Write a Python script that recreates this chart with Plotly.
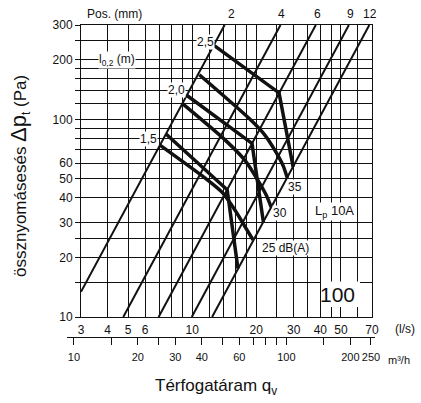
import math
import plotly.graph_objects as go

# grid / tick values
q_grid = [3, 4, 5, 6, 7, 8, 9, 10, 12, 14, 16, 18, 20, 25, 30, 35, 40, 45, 50, 60, 70]
q_labels = [3, 4, 5, 6, 10, 20, 30, 40, 50, 70]
dp_grid = [10, 15, 20, 25, 30, 40, 50, 60, 70, 80, 90, 100, 120, 140, 160, 180, 200, 250, 300]
dp_labels = [10, 20, 30, 40, 50, 60, 100, 200, 300]
m3h_ticks = [10, 15, 20, 25, 30, 40, 50, 60, 70, 80, 90, 100, 150, 200, 250]
m3h_labels = [10, 20, 30, 40, 60, 100, 200, 250]

# damper positions (mm), end points (l/s, Pa)
pos_names = ["2", "4", "6", "9", "12"]
pos_q = [[3.0, 14.2], [4.74, 26.0], [6.95, 38.1], [9.95, 54.5], [12.4, 68.0]]
pos_dp = [[13.4, 300], [10, 300], [10, 300], [10, 300], [10, 300]]

# throw l0,2 (m) lines
throw_names = ["2,5", "2,0", "1,5"]
throw_q = [[12.7, 25.6, 29.8], [9.45, 19.1, 21.6], [7.55, 14.6, 16.4]]
throw_dp = [[236, 136, 57.5], [132, 75.5, 30.2], [84, 44, 17.6]]

# sound level Lp 10A, dB(A)
sound_names = ["35", "30", "25 dB(A)"]
sound_q = [[10.8, 18.7, 22.0, 24.8, 26.8, 28.0],
           [9.0, 14.3, 17.7, 20.4, 22.3, 23.5],
           [7.05, 11.5, 13.8, 15.9, 17.9, 19.3]]
sound_dp = [[168, 100, 83, 68, 58, 50.5],
            [120, 78.5, 62, 49, 41.3, 36],
            [74, 50.4, 42.8, 34.7, 28.1, 24.6]]

W, H = 421, 403
ML, MR, MT, MB = 60, 45, 25, 30
INK = "#111111"
FONT = "Arial, Liberation Sans, sans-serif"


def px(x):
    return (x - ML) / (W - ML - MR)


def py(y):
    return (H - MB - y) / (H - MT - MB)


fig = go.Figure()

for name, qs, ps in zip(pos_names, pos_q, pos_dp):
    fig.add_trace(go.Scatter(x=qs, y=ps, mode="lines", name="Pos " + name,
                             line=dict(color=INK, width=2), hoverinfo="skip"))

for name, qs, ps in zip(throw_names, throw_q, throw_dp):
    fig.add_trace(go.Scatter(x=qs, y=ps, mode="lines", name=name,
                             line=dict(color=INK, width=3.5), hoverinfo="skip"))

for name, qs, ps in zip(sound_names, sound_q, sound_dp):
    fig.add_trace(go.Scatter(x=qs, y=ps, mode="lines", name=name,
                             line=dict(color=INK, width=3.5, shape="spline", smoothing=0.6),
                             hoverinfo="skip"))

# dummy trace so the m3/h axis gets drawn
fig.add_trace(go.Scatter(x=[m3h_ticks[0], m3h_ticks[-1]], y=[0, 0], xaxis="x2", yaxis="y2",
                         mode="markers", marker=dict(opacity=0), hoverinfo="skip"))

q_text = [str(v) if v in q_labels else "" for v in q_grid]
dp_text = [str(v) if v in dp_labels else "" for v in dp_grid]
m3h_text = [str(v) if v in m3h_labels else "" for v in m3h_ticks]

tickfont = dict(family=FONT, size=12, color=INK)

# m3/h axis shares the l/s scale (1 l/s = 3.6 m3/h)
x2_left = 3 * 10 ** ((66.7 - 81) / 212.5) * 3.6
x2_right = 3 * 10 ** ((375 - 81) / 212.5) * 3.6

fig.update_layout(
    width=W, height=H,
    margin=dict(l=ML, r=MR, t=MT, b=MB),
    paper_bgcolor="white", plot_bgcolor="white",
    showlegend=False,
    xaxis=dict(type="log", range=[math.log10(3), math.log10(70)],
               domain=[px(81), px(372)], anchor="y",
               tickvals=q_grid, ticktext=q_text, ticks="", tickangle=0,
               showgrid=True, gridcolor=INK, gridwidth=1,
               showline=True, mirror=True, linecolor=INK, linewidth=1,
               zeroline=False, tickfont=tickfont, ticklabelstandoff=2),
    yaxis=dict(type="log", range=[1, math.log10(300)],
               domain=[py(317), 1], anchor="x",
               tickvals=dp_grid, ticktext=dp_text, ticks="outside", ticklen=5,
               tickcolor=INK, showgrid=True, gridcolor=INK, gridwidth=1,
               showline=True, mirror=True, linecolor=INK, linewidth=1,
               zeroline=False, tickfont=tickfont),
    xaxis2=dict(type="log", range=[math.log10(x2_left), math.log10(x2_right)],
                domain=[px(66.7), px(375)], anchor="y2", tickangle=0,
                tickvals=m3h_ticks, ticktext=m3h_text, ticks="outside", ticklen=7,
                tickcolor=INK, showgrid=False, showline=True, linecolor=INK,
                linewidth=1, zeroline=False, ticklabelstandoff=3,
                tickfont=dict(family=FONT, size=11, color=INK)),
    yaxis2=dict(domain=[py(337), py(337) + 0.01], visible=False, anchor="x2",
                range=[0, 1]),
)

# white box behind the "100"
fig.add_shape(type="rect", xref="paper", yref="paper",
              x0=px(321), x1=px(360), y0=py(307), y1=py(281.5),
              fillcolor="white", line=dict(width=0), layer="above")


def label(text, x, y, size=12, bg="rgba(0,0,0,0)", **kw):
    fig.add_annotation(text=text, x=px(x), y=py(y), xref="paper", yref="paper",
                       xanchor="center", yanchor="middle",
                       showarrow=False, bgcolor=bg, borderpad=0,
                       font=dict(family=FONT, size=size, color=INK), **kw)


label("Pos. (mm)", 114, 14)
for name, x in zip(pos_names, [231, 281, 317, 350, 370]):
    label(name, x, 14)

label("l<sub>0,2</sub> (m)", 117, 60, bg="white")
for name, x, y in zip(throw_names, [205, 176, 148], [42, 90, 139]):
    label(name, x, y, bg="white")
for name, x, y in zip(sound_names, [295, 280, 285], [187, 213, 248]):
    label(name, x, y, bg="white")
label("L<sub>p</sub> 10A", 334, 211, size=13, bg="white")
label("100", 337, 294, size=21)
label("(l/s)", 405, 329)
label("m³/h", 399, 360, size=11)

label("Térfogatáram q<sub>v</sub>", 216, 387, size=17)
label("össznyomásesés <span style='font-size:22px'>Δp</span><sub>t</sub> (Pa)",
      19, 176, size=17, textangle=-90)

fig.write_html("out.html", config={"displayModeBar": False},
               post_script="document.body.style.margin='0';")
